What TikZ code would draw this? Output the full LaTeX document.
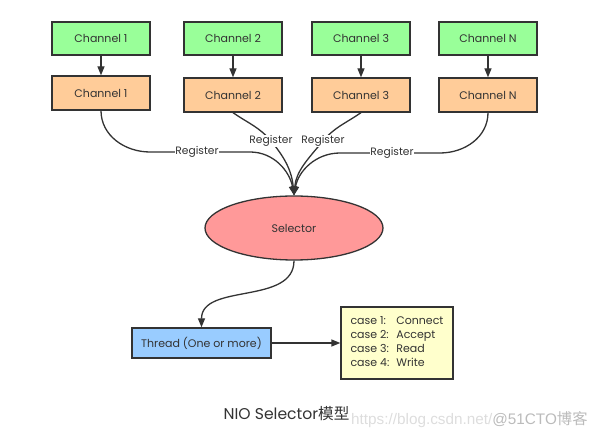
\documentclass[tikz,border=0pt]{standalone}
\usepackage{fontspec}
\setmainfont{Poppins}
\newfontfamily\cjk{Noto Sans CJK SC}
\newfontfamily\wmfont{Liberation Sans}
\usetikzlibrary{arrows.meta,shapes.geometric}
\definecolor{gfill}{HTML}{99FF99}
\definecolor{ofill}{HTML}{FFCC99}
\definecolor{rfill}{HTML}{FF9999}
\definecolor{bfill}{HTML}{99CCFF}
\definecolor{yfill}{HTML}{FFFFCC}
\definecolor{edge}{HTML}{333333}
\definecolor{txt}{HTML}{333333}
\tikzset{
  box/.style={draw=edge, line width=1.3pt, minimum width=98pt, minimum height=33pt, inner sep=0pt, text=txt, font=\fontsize{11}{13}\selectfont},
  gbox/.style={box, fill=gfill},
  obox/.style={box, fill=ofill, minimum height=34pt},
  arr/.style={draw=edge, line width=1.3pt, -{Triangle[length=9pt,width=7pt]}},
  lbl/.style={fill=white, inner sep=0.5pt, text=txt, font=\fontsize{10.7}{12}\selectfont},
}
\begin{document}
\begin{tikzpicture}[x=1pt,y=-1pt]
\useasboundingbox (0,0) rectangle (600,438);
% green channels
\node[gbox] (g1) at (101,38.5) {Channel 1};
\node[gbox] (g2) at (233,38.5) {Channel 2};
\node[gbox] (g3) at (361,38.5) {Channel 3};
\node[gbox] (g4) at (488,38.5) {Channel N};
% orange channels
\node[obox] (o1) at (101,93) {Channel 1};
\node[obox] (o2) at (233,95) {Channel 2};
\node[obox] (o3) at (361,95) {Channel 3};
\node[obox] (o4) at (488,95) {Channel N};
\foreach \i in {1,2,3,4} \draw[arr] (g\i.south) -- (o\i.north);
% selector
\node[ellipse, draw=edge, line width=1.3pt, fill=rfill, minimum width=178pt, minimum height=64pt, inner sep=0pt, text=txt, font=\fontsize{11}{13}\selectfont] (sel) at (294,228) {Selector};
% register curves
\draw[arr] (o1.south) to[out=-90,in=180] (150,152) -- (250,152) to[out=0,in=100] (sel.north);
\node[lbl] (r1) at (197,152) {Register};
\draw[arr] (o4.south) to[out=-90,in=0] (440,153) -- (340,153) to[out=180,in=80] (sel.north);
\node[lbl] (r4) at (392,153) {Register};
\draw[arr] (o2.south) to[out=-35,in=130] (271,141) to[out=-50,in=95] (sel.north);
\node[lbl] (r2) at (271,141) {Register};
\draw[arr] (o3.south) to[out=-145,in=50] (323,141) to[out=-130,in=85] (sel.north);
\node[lbl] (r3) at (323,141) {Register};
% thread and cases
\node[box, fill=bfill, minimum width=139pt, minimum height=30pt] (th) at (201.5,343) {Thread (One or more)};
\node[draw=edge, line width=1.3pt, fill=yfill, minimum width=112pt, minimum height=72pt, inner sep=0pt, text=txt, font=\fontsize{11}{14}\selectfont, align=left] (cs) at (397,343)
  {\begin{tabular}{@{}l@{\hspace{7pt}}l@{}}case 1: & Connect\\ case 2: & Accept\\ case 3: & Read\\ case 4: & Write\end{tabular}};
\draw[arr] (sel.south) to[out=-90,in=90] (th.north);
\draw[arr] (th.east) -- (cs.west);
% caption
\node[text=txt, font=\fontsize{15.6}{18}\selectfont, inner sep=0pt] (cap) at (286.5,414) {NIO Selector{\cjk 模型}};
\node[anchor=west, inner sep=0pt, font=\wmfont\fontsize{15.3}{18}\selectfont] (wm) at (351,420) {\textcolor[HTML]{DDDDDD}{https://blog.csdn.net/}\textcolor[HTML]{BBBBBB}{@51CTO{\cjk 博客}}};
\end{tikzpicture}
\end{document}
